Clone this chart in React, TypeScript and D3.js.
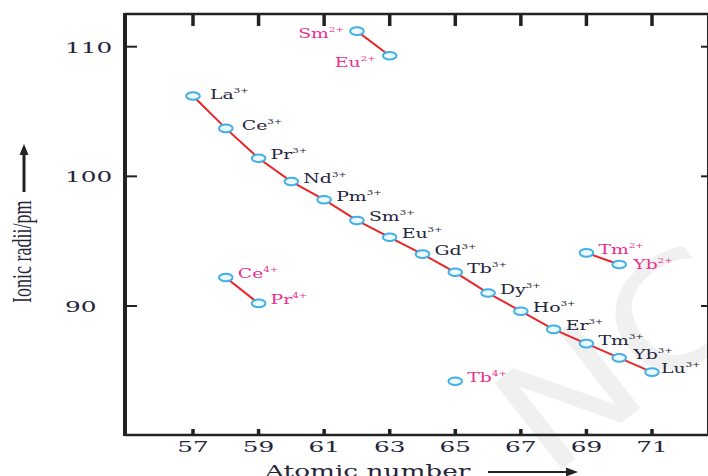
import React from "react";
import * as d3 from "d3";

// trivalent series (lanthanide contraction)
const zTri = [57, 58, 59, 60, 61, 62, 63, 64, 65, 66, 67, 68, 69, 70, 71];
const ionsTri = ["La", "Ce", "Pr", "Nd", "Pm", "Sm", "Eu", "Gd", "Tb", "Dy", "Ho", "Er", "Tm", "Yb", "Lu"];
const radiiTri = [106.2, 103.7, 101.4, 99.6, 98.2, 96.6, 95.3, 94.0, 92.6, 91.0, 89.6, 88.2, 87.1, 86.0, 84.9];

// divalent ions, drawn as pairs
const zDi = [62, 63, 69, 70];
const ionsDi = ["Sm", "Eu", "Tm", "Yb"];
const radiiDi = [111.2, 109.3, 94.1, 93.2];

// tetravalent ions
const zTetra = [58, 59, 65];
const ionsTetra = ["Ce", "Pr", "Tb"];
const radiiTetra = [92.2, 90.2, 84.2];

const xTicks = [57, 59, 61, 63, 65, 67, 69, 71];
const yTicks = [90, 100, 110];

const W = 708;
const H = 476;
const left = 125, right = 709, top = 14, bottom = 435;
const S = 1.45; // the source image is stretched sideways

const x = d3.scaleLinear().domain([57, 71]).range([193, 652]);
const y = d3.scaleLinear().domain([90, 110]).range([306, 46.7]);

const INK = "#24243a";
const PINK = "#ec2f8e";
const RED = "#e8262a";
const BLUE = "#3fb0e8";

// label placement (dx, dy from the marker, anchor)
const labelPos: Record<string, [number, number, string]> = {
  "La3+": [17, 3, "start"],
  "Ce3+": [16, 2, "start"],
  "Sm2+": [-13, 7, "end"],
  "Eu2+": [-14, 11, "end"],
  "Yb2+": [14, 4, "start"],
  "Yb3+": [14, 1, "start"],
  "Lu3+": [9, 1, "start"],
};

function Label({ z, r, ion, charge, color }: any) {
  const key = ion + charge;
  const [dx, dy, anchor] = labelPos[key] || [12, 1, "start"];
  return (
    <text
      transform={`translate(${x(z) + dx},${y(r) + dy}) scale(${S},1)`}
      textAnchor={anchor}
      fontFamily="DejaVu Serif"
      fontSize={13}
      fill={color}
    >
      {ion}
      <tspan fontSize={7} dy={-6}>{charge}</tspan>
    </text>
  );
}

function Marker({ z, r }: any) {
  return <ellipse cx={x(z)} cy={y(r)} rx={6.8} ry={3.8} fill="#eef9ff" stroke={BLUE} strokeWidth={2} />;
}

export default function App() {
  const line = d3.line<number>().x((d) => x(zTri[d])).y((d) => y(radiiTri[d]));
  const pair = (zs: number[], rs: number[]) =>
    d3.line<number>().x((i) => x(zs[i])).y((i) => y(rs[i]));

  return (
    <svg width={W} height={H} style={{ position: "absolute", left: 0, top: 0, background: "#fff" }}>
      {/* watermark */}
      <text
        transform="translate(548,480) rotate(-38) scale(1.2,1)"
        fontFamily="DejaVu Sans"
        fontSize={150}
        fill="#f0f0f0"
      >
        NC
      </text>

      {/* frame */}
      <line x1={left} x2={right} y1={top} y2={top} stroke="#222" strokeWidth={2.5} />
      <line x1={left} x2={right} y1={bottom} y2={bottom} stroke="#222" strokeWidth={2.5} />
      <line x1={left} x2={left} y1={top - 1} y2={bottom + 1} stroke="#222" strokeWidth={4} />
      <line x1={right} x2={right} y1={top - 1} y2={bottom + 1} stroke="#222" strokeWidth={4} />

      {xTicks.map((t) => (
        <g key={t}>
          <line x1={x(t)} x2={x(t)} y1={top} y2={top + 12} stroke="#222" strokeWidth={3.5} />
          <line x1={x(t)} x2={x(t)} y1={bottom} y2={bottom - 6} stroke="#222" strokeWidth={3.5} />
          <text
            transform={`translate(${x(t)},452) scale(1.65,1)`}
            textAnchor="middle"
            fontFamily="DejaVu Serif"
            fontSize={15}
            fill={INK}
          >
            {t}
          </text>
        </g>
      ))}

      {yTicks.map((t) => (
        <g key={t}>
          <line x1={left} x2={left + 12} y1={y(t)} y2={y(t)} stroke="#222" strokeWidth={2} />
          <line x1={right} x2={right - 8} y1={y(t)} y2={y(t)} stroke="#222" strokeWidth={2} />
          <text
            transform={`translate(65,${y(t) + 6}) scale(1.65,1)`}
            fontFamily="DejaVu Serif"
            fontSize={15}
            fill={INK}
          >
            {t}
          </text>
        </g>
      ))}

      {/* axis titles */}
      <text
        transform={`translate(265,477) scale(1.55,1)`}
        fontFamily="DejaVu Serif"
        fontSize={17}
        fill={INK}
      >
        Atomic number
      </text>
      <line x1={488} x2={570} y1={472} y2={472} stroke="#222" strokeWidth={2} />
      <path d="M578,472 L566,467.5 L566,476.5 Z" fill="#222" />

      <text
        transform={`translate(31,303) scale(1.55,1) rotate(-90)`}
        fontFamily="Liberation Serif"
        fontSize={18}
        fill={INK}
      >
        Ionic radii/pm
      </text>
      <line x1={24} x2={24} y1={192} y2={152} stroke="#222" strokeWidth={3} />
      <path d="M24,144 L19.5,155 L28.5,155 Z" fill="#222" />

      {/* series lines */}
      <path d={line(d3.range(zTri.length)) || ""} fill="none" stroke={RED} strokeWidth={2} />
      <path d={pair(zDi, radiiDi)([0, 1]) || ""} fill="none" stroke={RED} strokeWidth={2} />
      <path d={pair(zDi, radiiDi)([2, 3]) || ""} fill="none" stroke={RED} strokeWidth={2} />
      <path d={pair(zTetra, radiiTetra)([0, 1]) || ""} fill="none" stroke={RED} strokeWidth={2} />

      {zTri.map((z, i) => (
        <g key={"t" + i}>
          <Marker z={z} r={radiiTri[i]} />
          <Label z={z} r={radiiTri[i]} ion={ionsTri[i]} charge="3+" color={INK} />
        </g>
      ))}
      {zDi.map((z, i) => (
        <g key={"d" + i}>
          <Marker z={z} r={radiiDi[i]} />
          <Label z={z} r={radiiDi[i]} ion={ionsDi[i]} charge="2+" color={PINK} />
        </g>
      ))}
      {zTetra.map((z, i) => (
        <g key={"q" + i}>
          <Marker z={z} r={radiiTetra[i]} />
          <Label z={z} r={radiiTetra[i]} ion={ionsTetra[i]} charge="4+" color={PINK} />
        </g>
      ))}
    </svg>
  );
}
